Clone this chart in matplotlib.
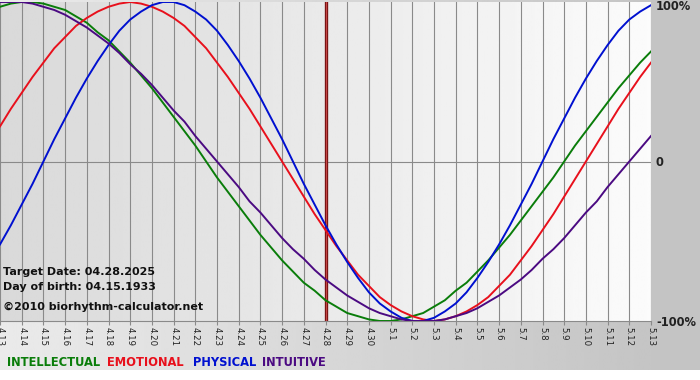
import numpy as np
import matplotlib.pyplot as plt

# one tick per day, 4.13 .. 5.13
days = ["4.13", "4.14", "4.15", "4.16", "4.17", "4.18", "4.19", "4.20", "4.21", "4.22",
        "4.23", "4.24", "4.25", "4.26", "4.27", "4.28", "4.29", "4.30", "5.1", "5.2",
        "5.3", "5.4", "5.5", "5.6", "5.7", "5.8", "5.9", "5.10", "5.11", "5.12", "5.13"]
target_day = "4.28"

# values every half day (-1 .. 1), starting at 4.13
intellectual = [0.97, 0.99, 1.00, 1.00, 0.99, 0.97, 0.95, 0.91, 0.87, 0.81,
                0.76, 0.69, 0.62, 0.54, 0.46, 0.37, 0.28, 0.19, 0.10, 0.00,
                -0.10, -0.19, -0.28, -0.37, -0.46, -0.54, -0.62, -0.69, -0.76, -0.81,
                -0.87, -0.91, -0.95, -0.97, -0.99, -1.00, -1.00, -0.99, -0.97, -0.95,
                -0.91, -0.87, -0.81, -0.76, -0.69, -0.62, -0.54, -0.46, -0.37, -0.28,
                -0.19, -0.10, 0.00, 0.10, 0.19, 0.28, 0.37, 0.46, 0.54, 0.62, 0.69]
emotional = [0.22, 0.33, 0.43, 0.53, 0.62, 0.71, 0.78, 0.85, 0.90, 0.94,
             0.97, 0.99, 1.00, 0.99, 0.97, 0.94, 0.90, 0.85, 0.78, 0.71,
             0.62, 0.53, 0.43, 0.33, 0.22, 0.11, 0.00, -0.11, -0.22, -0.33,
             -0.43, -0.53, -0.62, -0.71, -0.78, -0.85, -0.90, -0.94, -0.97, -0.99,
             -1.00, -0.99, -0.97, -0.94, -0.90, -0.85, -0.78, -0.71, -0.62, -0.53,
             -0.43, -0.33, -0.22, -0.11, 0.00, 0.11, 0.22, 0.33, 0.43, 0.53, 0.62]
physical = [-0.52, -0.40, -0.27, -0.14, 0.00, 0.14, 0.27, 0.40, 0.52, 0.63,
            0.73, 0.82, 0.89, 0.94, 0.98, 1.00, 1.00, 0.98, 0.94, 0.89,
            0.82, 0.73, 0.63, 0.52, 0.40, 0.27, 0.14, 0.00, -0.14, -0.27,
            -0.40, -0.52, -0.63, -0.73, -0.82, -0.89, -0.94, -0.98, -1.00, -1.00,
            -0.98, -0.94, -0.89, -0.82, -0.73, -0.63, -0.52, -0.40, -0.27, -0.14,
            0.00, 0.14, 0.27, 0.40, 0.52, 0.63, 0.73, 0.82, 0.89, 0.94, 0.98]
intuitive = [1.00, 1.00, 1.00, 0.99, 0.97, 0.95, 0.92, 0.88, 0.84, 0.79,
             0.74, 0.68, 0.61, 0.55, 0.48, 0.40, 0.32, 0.25, 0.16, 0.08,
             0.00, -0.08, -0.16, -0.25, -0.32, -0.40, -0.48, -0.55, -0.61, -0.68,
             -0.74, -0.79, -0.84, -0.88, -0.92, -0.95, -0.97, -0.99, -1.00, -1.00,
             -1.00, -0.99, -0.97, -0.95, -0.92, -0.88, -0.84, -0.79, -0.74, -0.68,
             -0.61, -0.55, -0.48, -0.40, -0.32, -0.25, -0.16, -0.08, 0.00, 0.08, 0.16]

series = [("INTELLECTUAL", intellectual, "#0a7d0a"),
          ("EMOTIONAL", emotional, "#e8101c"),
          ("PHYSICAL", physical, "#0010d0"),
          ("INTUITIVE", intuitive, "#4b0a82")]

W, H = 700, 380
fig = plt.figure(figsize=(W / 100, H / 100), dpi=100)

# background: grey band under / right of the plot, white at the very bottom
bg = fig.add_axes([0, 0, 1, 1], zorder=-2)
bg.set_xlim(0, W)
bg.set_ylim(H, 0)
bg.axis("off")
grad = np.linspace(0.92, 0.77, 256).reshape(1, -1)
bg.imshow(grad, cmap="gray", vmin=0, vmax=1, aspect="auto",
          extent=[0, 651, 370, 0])
bg.add_patch(plt.Rectangle((651, 0), W - 651, 370, color="#c4c4c4", lw=0))

top, bottom, right = 2, 321, 651
ax = fig.add_axes([0, 1 - bottom / H, right / W, (bottom - top) / H])
x = np.arange(len(days))
ax.set_xlim(0, len(days) - 1)
ax.set_ylim(-1.0, 1.0)

pgrad = np.linspace(0.85, 0.985, 256).reshape(1, -1)
ax.imshow(pgrad, cmap="gray", vmin=0, vmax=1, aspect="auto",
          extent=[0, len(days) - 1, -1, 1], zorder=0)

for xi in x:
    ax.axvline(xi, color="#8a8a8a", lw=0.8, zorder=1)
ax.axhline(0, color="#8a8a8a", lw=0.8, zorder=1)

ti = days.index(target_day)
ax.axvline(ti, color="#7a1414", lw=2.4, zorder=2)
ax.axvline(ti, color="#c84848", lw=0.7, zorder=2)

for name, vals, col in series:
    xs = np.arange(len(vals)) * 0.5
    ax.plot(xs, vals, color=col, lw=1.4, zorder=3)

for s in ["left", "top", "right"]:
    ax.spines[s].set_visible(False)
ax.spines["bottom"].set_color("#8a8a8a")
ax.set_yticks([])
ax.set_xticks(x)
ax.set_xticklabels(days, rotation=-90, fontsize=6.2, color="#222222")
ax.tick_params(axis="x", length=3, color="#8a8a8a", pad=1)

# right-hand percentage labels
for lab, py in [("100%", 7), ("0", 162), ("-100%", 323)]:
    fig.text(656 / W, 1 - py / H, lab, fontsize=8.3, fontweight="bold",
             color="#222222", va="center", ha="left")

# info text inside the plot
info = ["Target Date: 04.28.2025", "Day of birth: 04.15.1933",
        "\u00a92010 biorhythm-calculator.net"]
for txt, py in zip(info, [272, 287, 307]):
    fig.text(3 / W, 1 - py / H, txt, fontsize=8.0, fontweight="bold",
             color="#111111", va="center", ha="left")

# legend words along the bottom
lx = [7, 107, 193, 262]
for (name, vals, col), px in zip(series, lx):
    fig.text(px / W, 1 - 362 / H, name, fontsize=8.3, fontweight="bold",
             color=col, va="center", ha="left")

fig.savefig("out.png", dpi=100)
